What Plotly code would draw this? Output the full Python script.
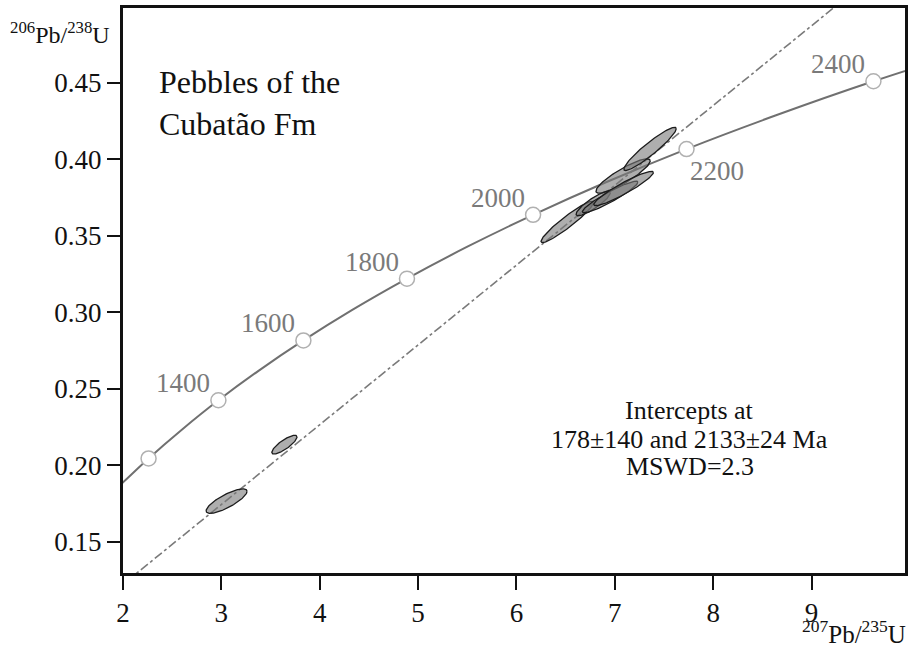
import numpy as np
import plotly.graph_objects as go

# Concordia curve (ages in Ma) and its 207Pb/235U, 206Pb/238U coordinates
conc_age = [1100, 1200, 1300, 1400, 1500, 1600, 1700, 1800, 1900, 2000, 2100, 2200, 2300, 2400, 2500]
conc_x = [1.955, 2.260, 2.598, 2.970, 3.381, 3.834, 4.335, 4.887, 5.496, 6.169, 6.910, 7.729, 8.632, 9.629, 10.730]
conc_y = [0.1861, 0.2046, 0.2234, 0.2426, 0.2620, 0.2817, 0.3018, 0.3221, 0.3428, 0.3638, 0.3851, 0.4068, 0.4287, 0.4511, 0.4737]

marker_ages = [1200, 1400, 1600, 1800, 2000, 2200, 2400]
label_ages = [1400, 1600, 1800, 2000, 2200, 2400]

# Discordia through the intercepts (178 Ma and 2133 Ma), extended
disc_x = [0.192, 7.172, 9.600]
disc_y = [0.0280, 0.3920, 0.5187]

# Error ellipses: centre, half-extents, correlation
ell_x = [3.053, 3.641, 6.517, 6.780, 6.952, 7.084, 7.089, 7.358]
ell_y = [0.1767, 0.2136, 0.3592, 0.3712, 0.3755, 0.3892, 0.3810, 0.4069]
ell_sx = [0.208, 0.128, 0.267, 0.174, 0.282, 0.276, 0.303, 0.266]
ell_sy = [0.0080, 0.0061, 0.0135, 0.0080, 0.0103, 0.0112, 0.0112, 0.0141]
ell_rho = [0.80, 0.82, 0.943, 0.873, 0.933, 0.881, 0.932, 0.935]

x_ticks = [2, 3, 4, 5, 6, 7, 8, 9]
y_ticks = [0.15, 0.20, 0.25, 0.30, 0.35, 0.40, 0.45]

FONT = "Liberation Serif"
fig = go.Figure()

fig.add_trace(go.Scatter(x=conc_x, y=conc_y, mode="lines", line=dict(color="#707070", width=2, shape="spline"),
                         hoverinfo="skip", showlegend=False))
fig.add_trace(go.Scatter(x=disc_x, y=disc_y, mode="lines", line=dict(color="#7a7a7a", width=1.6, dash="dashdot"),
                         hoverinfo="skip", showlegend=False))

t = np.linspace(0, 2 * np.pi, 120)
for cx, cy, sx, sy, r in zip(ell_x, ell_y, ell_sx, ell_sy, ell_rho):
    ex = cx + sx * np.cos(t)
    ey = cy + sy * (r * np.cos(t) + np.sqrt(1 - r * r) * np.sin(t))
    fig.add_trace(go.Scatter(x=ex, y=ey, mode="lines", fill="toself",
                             fillcolor="rgba(120,120,120,0.6)",
                             line=dict(color="#1c1c1c", width=1.3),
                             hoverinfo="skip", showlegend=False))

mx = [conc_x[conc_age.index(a)] for a in marker_ages]
my = [conc_y[conc_age.index(a)] for a in marker_ages]
fig.add_trace(go.Scatter(x=mx, y=my, mode="markers",
                         marker=dict(size=15, color="white", line=dict(color="#b0b0b0", width=1.5)),
                         hoverinfo="skip", showlegend=False))

for a in label_ages:
    i = conc_age.index(a)
    if a == 2200:
        xs, ys = 30, -22
    else:
        xs, ys = -35, 17
    fig.add_annotation(x=conc_x[i], y=conc_y[i], text=str(a), showarrow=False, xshift=xs, yshift=ys,
                       font=dict(family=FONT, size=27, color="#7a7a7a"))

fig.add_annotation(xref="paper", yref="paper", x=0.043, y=0.832, xanchor="left", yanchor="middle",
                   align="left", showarrow=False, text="Pebbles of the<br>Cubatão Fm",
                   font=dict(family=FONT, size=32, color="#111"))

for txt, py in [("Intercepts at", 410), ("178±140 and 2133±24 Ma", 439), ("MSWD=2.3", 466)]:
    fig.add_annotation(xref="paper", yref="paper", x=(692 - 123) / 785, y=(573 - py) / 565,
                       xanchor="center", yanchor="middle", showarrow=False, text=txt,
                       font=dict(family=FONT, size=26, color="#111"))

fig.add_annotation(xref="paper", yref="paper", x=(8 - 123) / 785, y=(573 - 33) / 565,
                   xanchor="left", yanchor="middle", showarrow=False,
                   text="<sup>206</sup>Pb/<sup>238</sup>U", font=dict(family=FONT, size=24, color="#111"))
fig.add_annotation(xref="paper", yref="paper", x=(911 - 123) / 785, y=(573 - 632) / 565,
                   xanchor="right", yanchor="middle", showarrow=False,
                   text="<sup>207</sup>Pb/<sup>235</sup>U", font=dict(family=FONT, size=25, color="#111"))

fig.update_xaxes(range=[2.0, 9.95], tickvals=x_ticks, ticktext=[str(v) for v in x_ticks],
                 showgrid=False, zeroline=False, showline=True, linecolor="#111", linewidth=3, mirror=True,
                 ticks="outside", ticklen=14, tickwidth=2, tickcolor="#111",
                 tickfont=dict(family=FONT, size=27, color="#111"))
fig.update_yaxes(range=[0.1297, 0.499], tickvals=y_ticks, ticktext=["%.2f" % v for v in y_ticks],
                 showgrid=False, zeroline=False, showline=True, linecolor="#111", linewidth=3, mirror=True,
                 ticks="outside", ticklen=13, tickwidth=2, tickcolor="#111",
                 tickfont=dict(family=FONT, size=27, color="#111"))

fig.update_layout(width=911, height=655, margin=dict(l=123, r=3, t=8, b=82),
                  paper_bgcolor="white", plot_bgcolor="white", showlegend=False)

fig.write_html("out.html", config={"displayModeBar": False},
               post_script="document.body.style.margin='0';document.body.style.overflow='hidden';")
